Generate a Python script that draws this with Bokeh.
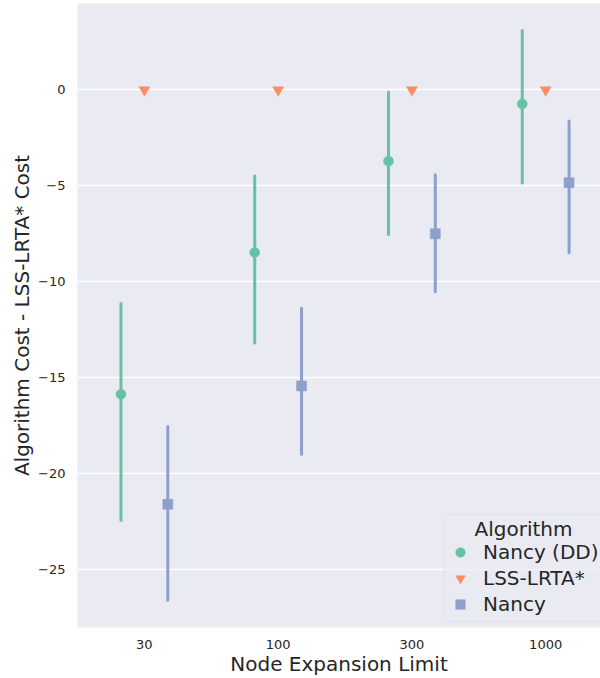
import numpy as np
from bokeh.plotting import figure
from bokeh.models import (Range1d, FixedTicker, Legend, LegendItem, BoxAnnotation,
                          Label, ColumnDataSource)
from bokeh.embed import file_html
from bokeh.resources import INLINE

# ---- data ----
categories = ["30", "100", "300", "1000"]

nancy_dd_mean = [-15.85, -8.47, -3.71, -0.73]
nancy_dd_lo = [-22.42, -13.18, -7.53, -4.85]
nancy_dd_hi = [-11.13, -4.48, -0.11, 3.10]

lss_mean = [0.0, 0.0, 0.0, 0.0]
lss_lo = [0.0, 0.0, 0.0, 0.0]
lss_hi = [0.0, 0.0, 0.0, 0.0]

nancy_mean = [-21.58, -15.42, -7.49, -4.83]
nancy_lo = [-26.58, -18.98, -10.51, -8.48]
nancy_hi = [-17.53, -11.37, -4.42, -1.62]

y_ticks = [-25, -20, -15, -10, -5, 0]

FONT = "DejaVu Sans"
TXT = "#262626"

p = figure(width=600, height=678, output_backend="svg", toolbar_location=None,
           x_range=Range1d(-0.5, 3.41), y_range=Range1d(-28.0, 4.5),
           min_border_left=77, min_border_right=0, min_border_top=3, min_border_bottom=0,
           background_fill_color="#EAEAF2", border_fill_color="white")
p.outline_line_color = None

idx = np.arange(len(categories))

series = [
    ("Nancy (DD)", nancy_dd_mean, nancy_dd_lo, nancy_dd_hi, "#66c2a5", "circle", -0.175, 10),
    ("LSS-LRTA*", lss_mean, lss_lo, lss_hi, "#fc8d62", "inverted_triangle", 0.0, 11),
    ("Nancy", nancy_mean, nancy_lo, nancy_hi, "#8da0cb", "square", 0.175, 10),
]

items = []
for name, mean, lo, hi, color, marker, off, size in series:
    src = ColumnDataSource(dict(x=idx + off, mean=mean, lo=lo, hi=hi))
    p.segment(x0="x", y0="lo", x1="x", y1="hi", source=src, line_color=color,
              line_width=3, line_cap="round")
    r = p.scatter(x="x", y="mean", source=src, marker=marker, size=size,
                  fill_color=color, line_color=color, line_width=0.5)
    items.append(LegendItem(label=name, renderers=[r]))

# axes
p.xaxis.ticker = FixedTicker(ticks=list(idx))
p.xaxis.major_label_overrides = {int(i): c for i, c in zip(idx, categories)}
p.yaxis.ticker = FixedTicker(ticks=y_ticks)
p.yaxis.major_label_overrides = {t: str(t).replace("-", "\u2212") for t in y_ticks}

for ax in (p.xaxis[0], p.yaxis[0]):
    ax.axis_line_color = None
    ax.major_tick_line_color = None
    ax.minor_tick_line_color = None
    ax.major_tick_out = 0
    ax.major_tick_in = 0
    ax.minor_tick_out = 0
    ax.minor_tick_in = 0
    ax.major_label_text_font = FONT
    ax.major_label_text_font_size = "13px"
    ax.major_label_text_color = TXT
    ax.axis_label_text_font = FONT
    ax.axis_label_text_font_size = "20px"
    ax.axis_label_text_font_style = "normal"
    ax.axis_label_text_color = TXT

p.xaxis.axis_label = "Node Expansion Limit"
p.yaxis.axis_label = "Algorithm Cost - LSS-LRTA* Cost"
p.xaxis.major_label_standoff = 12
p.xaxis.axis_label_standoff = 0
p.yaxis.major_label_standoff = 12
p.yaxis.axis_label_standoff = 1

p.xgrid.grid_line_color = None
p.ygrid.grid_line_color = "white"
p.ygrid.grid_line_width = 1.3

# legend
box = BoxAnnotation(left=366, right=560, bottom=6, top=113,
                    left_units="screen", right_units="screen",
                    bottom_units="screen", top_units="screen",
                    fill_color="#EAEAF2", fill_alpha=0.8,
                    line_color="#cccccc", line_width=1, border_radius=4)
p.add_layout(box)

legend = Legend(items=items, location=(371, 11), padding=0, spacing=2, margin=0,
                glyph_width=24, glyph_height=24, label_height=24, label_standoff=11,
                background_fill_alpha=0, border_line_color=None,
                label_text_font=FONT, label_text_font_size="20px", label_text_color=TXT)
p.add_layout(legend)

title = Label(x=446, y=99, x_units="screen", y_units="screen", text="Algorithm",
              text_align="center", text_baseline="middle", text_font=FONT,
              text_font_size="20px", text_color=TXT)
p.add_layout(title)

open("out.html", "w").write(file_html(p, INLINE))
